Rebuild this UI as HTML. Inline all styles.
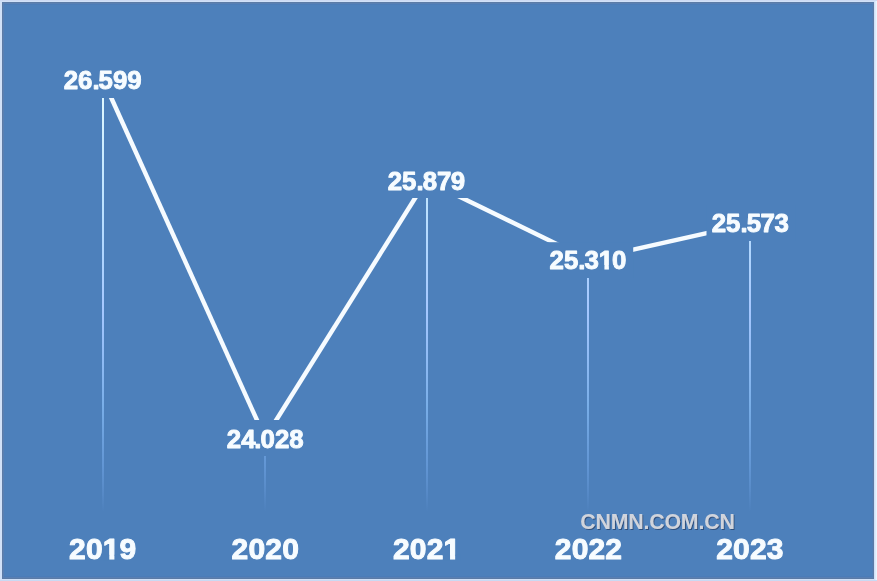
<!DOCTYPE html>
<html lang="en">
<head>
<meta charset="utf-8">
<title>Chart 2019-2023</title>
<style>
html,body{margin:0;padding:0;background:#4d80bb;overflow:hidden;}
body{width:877px;height:581px;position:relative;font-family:"Liberation Sans",sans-serif;}
svg{position:absolute;left:0;top:0;display:block;}
text{font-family:"Liberation Sans",sans-serif;font-weight:bold;}
.val{font-size:24.6px;fill:#f7fcff;stroke:#f7fcff;stroke-width:0.9px;stroke-linejoin:round;letter-spacing:0px;}
.yr{font-size:30px;fill:#f7fcff;stroke:#f7fcff;stroke-width:1px;stroke-linejoin:round;letter-spacing:0.17px;}
.wm{font-size:21.3px;letter-spacing:-0.17px;fill:#d0d4dc;}
</style>
</head>
<body>
<svg width="877" height="581" viewBox="0 0 877 581">
  <defs>
    <filter id="sh" x="-5%" y="-30%" width="110%" height="170%">
      <feDropShadow dx="1" dy="1" stdDeviation="0.25" flood-color="#2c4672" flood-opacity="0.85"/>
    </filter>
    <linearGradient id="g1" gradientUnits="userSpaceOnUse" x1="0" y1="98" x2="0" y2="512">
      <stop offset="0.000" stop-color="#dff8ff"/>
      <stop offset="0.126" stop-color="#ccecff"/>
      <stop offset="0.258" stop-color="#bde2ff"/>
      <stop offset="0.391" stop-color="#aed4ff"/>
      <stop offset="0.507" stop-color="#a6c8ff"/>
      <stop offset="0.633" stop-color="#8fbbf4"/>
      <stop offset="0.742" stop-color="#79aee8"/>
      <stop offset="0.826" stop-color="#6b9fdc"/>
      <stop offset="0.886" stop-color="#6296d4"/>
      <stop offset="0.947" stop-color="#588bc8"/>
      <stop offset="1.000" stop-color="#4d80bb"/>
    </linearGradient>
  </defs>
  <!-- background -->
  <rect x="0" y="0" width="877" height="581" fill="#d1e1f8"/>
  <rect x="875.5" y="0" width="1.5" height="581" fill="#e9f7ff"/>
  <rect x="0" y="0" width="877" height="1" fill="#cddaf3"/>
  <rect x="0" y="580" width="877" height="1" fill="#c9d9f3"/>
  <rect x="2" y="2" width="872" height="577" fill="#5c7ba6"/>
  <rect x="3" y="3" width="870" height="575" fill="#5980b3"/>
  <rect x="4" y="4" width="868.5" height="573" fill="#4c7cb8"/>
  <rect x="4" y="5" width="868" height="571" fill="#4d80bb"/>

  <!-- vertical guide lines -->
  <rect x="102" y="98" width="2" height="414" fill="url(#g1)"/>
  <rect x="264" y="456" width="2" height="56" fill="url(#g1)"/>
  <rect x="426" y="198" width="2" height="314" fill="url(#g1)"/>
  <rect x="587" y="278" width="2" height="234" fill="url(#g1)"/>
  <rect x="749" y="241" width="2" height="271" fill="url(#g1)"/>

  <!-- data line -->
  <g stroke="#f6fbff" stroke-width="4.4" fill="none">
    <line x1="103.2" y1="80" x2="265.5" y2="439"/>
    <line x1="264.4" y1="439" x2="425.8" y2="181"/>
    <line x1="426.3" y1="180.4" x2="587.8" y2="259.2"/>
    <line x1="587.8" y1="259.8" x2="750.2" y2="223.3"/>
  </g>

  <!-- label masks -->
  <rect x="57" y="62" width="92" height="36" fill="#4d80bb"/>
  <rect x="219" y="420" width="92" height="35" fill="#4d80bb"/>
  <rect x="380" y="163" width="92" height="35" fill="#4d80bb"/>
  <rect x="543" y="242.2" width="90.2" height="35.8" fill="#4d80bb"/>
  <rect x="706.5" y="205" width="89" height="36" fill="#4d80bb"/>

  <!-- values -->
  <g transform="translate(102.70 88.70) scale(1.050 1.030)"><text class="val" x="-37.16" y="0">26.<tspan dx="-0.93">5</tspan>99</text></g>
  <g transform="translate(265.20 447.50) scale(1.050 1.030)"><text class="val" x="-36.61" y="0">24<tspan dx="-1.10">.</tspan><tspan dx="-0.93">0</tspan>28</text></g>
  <g transform="translate(426.50 189.50) scale(1.050 1.030)"><text class="val" x="-36.91" y="0">25.<tspan dx="-0.93">8</tspan>7<tspan dx="-0.50">9</tspan></text></g>
  <g transform="translate(588.00 269.20) scale(1.050 1.030)"><text class="val" x="-36.61" y="0">25.<tspan dx="-0.93">3</tspan>1<tspan dx="-1.10">0</tspan></text><rect x="10.44" y="-3.96" width="5.19" height="5.41" fill="#4d80bb"/><polygon points="19.91,-3.96 24.11,-3.96 24.59,-1.19 24.59,1.45 19.91,1.45" fill="#4d80bb"/></g>
  <g transform="translate(750.30 232.40) scale(1.050 1.030)"><text class="val" x="-36.76" y="0">25.<tspan dx="-0.93">5</tspan><tspan dx="-0.40">7</tspan><tspan dx="-0.40">3</tspan></text></g>

  <!-- watermark -->
  <text class="wm" x="580.3" y="528.8" filter="url(#sh)">CNMN.COM.CN</text>

  <!-- years -->
  <g transform="translate(102.60 559.40)"><text class="yr" x="-33.52" y="0">201<tspan dx="-0.20">9</tspan></text><rect x="0.57" y="-4.56" width="6.11" height="6.06" fill="#4d80bb"/><polygon points="11.80,-4.56 17.33,-4.56 17.33,-1.37 17.33,1.50 11.80,1.50" fill="#4d80bb"/></g>
  <g transform="translate(265.20 559.40)"><text class="yr" x="-33.62" y="0">2020</text></g>
  <g transform="translate(426.60 559.40)"><text class="yr" x="-33.62" y="0">2021</text><rect x="17.33" y="-4.56" width="6.11" height="6.06" fill="#4d80bb"/><polygon points="28.56,-4.56 34.09,-4.56 34.09,-1.37 34.09,1.50 28.56,1.50" fill="#4d80bb"/></g>
  <g transform="translate(588.40 559.40)"><text class="yr" x="-33.62" y="0">2022</text></g>
  <g transform="translate(749.80 559.40)"><text class="yr" x="-33.62" y="0">2023</text></g>
</svg>
</body>
</html>
